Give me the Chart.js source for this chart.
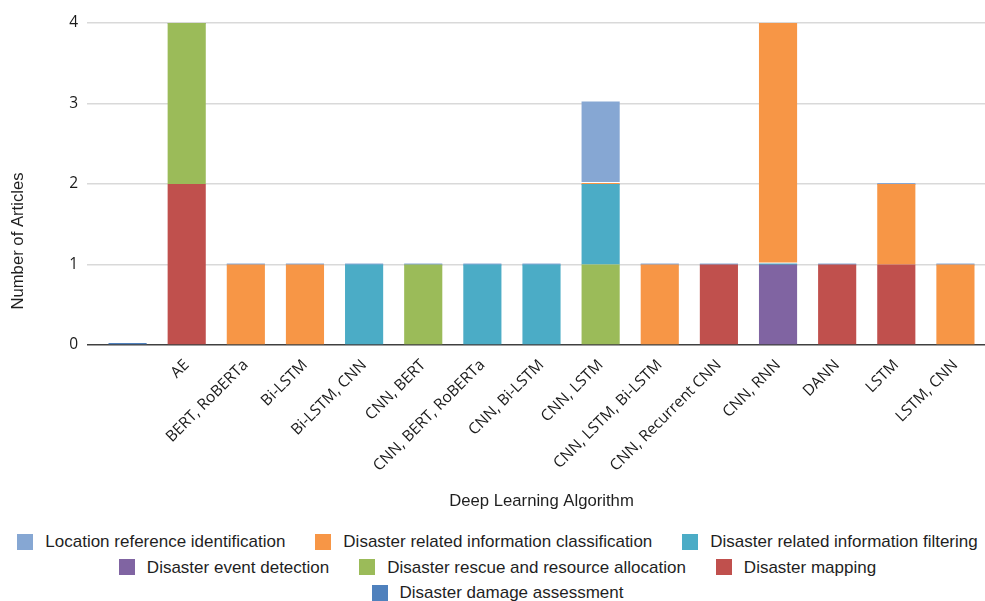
<!DOCTYPE html>
<html>
<head>
    <title>Deep Learning Algorithms by Task</title>
    <script src="https://cdn.jsdelivr.net/npm/chart.js"></script>
    <style>
        body {
            margin: 0;
            padding: 0;
            background: #ffffff;
            font-family: 'Liberation Sans', Arial, sans-serif;
            color: #1f1f1f;
        }
        .chart-box {
            position: relative;
            width: 985px;
            height: 520px;
        }
        .legend {
            width: 985px;
            padding-top: 9px;
            padding-left: 10px;
            box-sizing: border-box;
            font-size: 17px;
            line-height: 25.5px;
        }
        .legend .row {
            display: flex;
            flex-wrap: nowrap;
            justify-content: center;
        }
        .legend span.item {
            display: inline-flex;
            align-items: center;
            margin: 0 15px;
            white-space: nowrap;
        }
        .legend span.swatch {
            display: inline-block;
            width: 16px;
            height: 16px;
            margin-right: 12px;
        }
    </style>
</head>
<body>
    <div class="chart-box"><canvas id="algoChart"></canvas></div>
    <div class="legend" id="legend"></div>

    <script>
// algorithm groups (first one is the blank group)
const categories = ['', 'AE', 'BERT, RoBERTa', 'Bi-LSTM', 'Bi-LSTM, CNN', 'CNN, BERT',
    'CNN, BERT, RoBERTa', 'CNN, Bi-LSTM', 'CNN, LSTM', 'CNN, LSTM, Bi-LSTM',
    'CNN, Recurrent CNN', 'CNN, RNN', 'DANN', 'LSTM', 'LSTM, CNN'];

// article counts per task, null = no entry, 0 = entry with zero articles
const damageAssessment   = [0, null, null, null, null, null, null, null, null, null, null, null, null, null, null];
const mapping            = [null, 2, null, null, null, null, null, null, null, null, 1, null, 1, 1, null];
const rescueAllocation   = [null, 2, null, null, null, 1, null, null, 1, null, null, null, null, null, null];
const eventDetection     = [null, null, null, null, null, null, null, null, null, null, null, 1, null, null, null];
const infoFiltering      = [null, null, null, null, 1, null, 1, 1, 1, null, null, 0, null, null, null];
const infoClassification = [null, null, 1, 1, null, null, null, null, 0, 1, null, 3, null, 1, 1];
const locationReference  = [null, 0, 0, 0, 0, 0, 0, 0, 1, 0, 0, 0, 0, 0, 0];

const yTicks = [0, 1, 2, 3, 4];

// stacking order, bottom to top
const series = [
    { label: 'Disaster damage assessment', data: damageAssessment, color: '#4f81bd' },
    { label: 'Disaster mapping', data: mapping, color: '#c0504d' },
    { label: 'Disaster rescue and resource allocation', data: rescueAllocation, color: '#9bbb59' },
    { label: 'Disaster event detection', data: eventDetection, color: '#8064a2' },
    { label: 'Disaster related information filtering', data: infoFiltering, color: '#4bacc6' },
    { label: 'Disaster related information classification', data: infoClassification, color: '#f79646' },
    { label: 'Location reference identification', data: locationReference, color: '#86a7d3' }
];

// legend reads top of stack first, three rows
const legendRows = [[6, 5, 4], [3, 2, 1], [0]];

const yTitle = {
    id: 'yTitle',
    afterDraw(chart) {
        const c = chart.ctx;
        c.save();
        c.translate(18, 241);
        c.rotate(-Math.PI / 2);
        c.font = "16.7px 'Liberation Sans', Arial, sans-serif";
        c.fillStyle = '#1f1f1f';
        c.textAlign = 'center';
        c.textBaseline = 'middle';
        c.fillText('Number of Articles', 0, 0);
        c.restore();
    }
};

const chart = new Chart(document.getElementById('algoChart'), {
    type: 'bar',
    data: {
        labels: categories,
        datasets: series.map(s => ({
            label: s.label,
            data: s.data,
            backgroundColor: s.color,
            borderWidth: 0,
            minBarLength: 2,
            barPercentage: 0.645,
            categoryPercentage: 1
        }))
    },
    options: {
        responsive: true,
        maintainAspectRatio: false,
        animation: false,
        layout: { padding: { top: 23, right: 0, left: 0, bottom: 0 } },
        plugins: {
            legend: { display: false },
            tooltip: { enabled: false }
        },
        scales: {
            x: {
                stacked: true,
                grid: { display: false },
                border: { display: false },
                ticks: {
                    autoSkip: false,
                    maxRotation: 45,
                    minRotation: 45,
                    color: '#1a1a1a',
                    font: { family: "'Open Sans', sans-serif", size: 15.5 }
                },
                title: {
                    display: true,
                    text: 'Deep Learning Algorithm',
                    color: '#1f1f1f',
                    font: { family: "'Liberation Sans', Arial, sans-serif", size: 16.7 },
                    padding: { top: 0, bottom: 9 }
                },
                afterFit(scale) { scale.height = 175; }
            },
            y: {
                stacked: true,
                min: 0,
                max: 4,
                afterBuildTicks(scale) { scale.ticks = yTicks.map(v => ({ value: v })); },
                border: { display: false },
                grid: {
                    color: ctx => ctx.tick && ctx.tick.value === 0 ? '#404040' : '#d9d9d9',
                    lineWidth: 1.5,
                    tickLength: 11
                },
                ticks: {
                    padding: 9,
                    color: '#1a1a1a',
                    font: { family: "'Open Sans', sans-serif", size: 15.5 }
                },
                afterFit(scale) { scale.width = 98; }
            }
        }
    },
    plugins: [yTitle]
});

const legend = document.getElementById('legend');
legendRows.forEach(rowItems => {
    const row = document.createElement('div');
    row.className = 'row';
    rowItems.forEach(i => {
        const item = document.createElement('span');
        item.className = 'item';
        item.innerHTML = '<span class="swatch" style="background:' + series[i].color + '"></span>' + series[i].label;
        row.appendChild(item);
    });
    legend.appendChild(row);
});
    </script>
</body>
</html>
